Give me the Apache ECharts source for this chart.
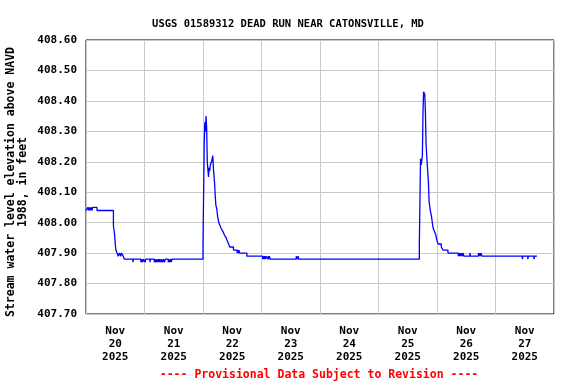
<!DOCTYPE html>
<html>
<head>
<meta charset="utf-8">
<script src="https://cdn.jsdelivr.net/npm/echarts@6/dist/echarts.min.js"></script>
<style>
  html, body { margin: 0; padding: 0; background: #fff; }
  #chart { width: 576px; height: 384px; }
</style>
</head>
<body>
<div id="chart"></div>
<script>
// day labels, centred in each day band
var dayLabels = ['Nov\n20\n2025', 'Nov\n21\n2025', 'Nov\n22\n2025', 'Nov\n23\n2025',
                 'Nov\n24\n2025', 'Nov\n25\n2025', 'Nov\n26\n2025', 'Nov\n27\n2025'];

// change points of the gage reading (value holds until next time)
var times = [
  // Nov 20
  '2025-11-20 00:00', '2025-11-20 00:45', '2025-11-20 01:00', '2025-11-20 01:15', '2025-11-20 01:30',
  '2025-11-20 01:45', '2025-11-20 02:00', '2025-11-20 02:15', '2025-11-20 02:30', '2025-11-20 02:45',
  '2025-11-20 04:30', '2025-11-20 11:15', '2025-11-20 11:45', '2025-11-20 12:00', '2025-11-20 12:15',
  '2025-11-20 12:45', '2025-11-20 13:15', '2025-11-20 13:45', '2025-11-20 14:15', '2025-11-20 14:30',
  '2025-11-20 15:15', '2025-11-20 15:45', '2025-11-20 19:15', '2025-11-20 19:30', '2025-11-20 22:30',
  '2025-11-20 22:45', '2025-11-20 23:15', '2025-11-20 23:30',
  // Nov 21
  '2025-11-21 00:15', '2025-11-21 00:30', '2025-11-21 02:15', '2025-11-21 02:30',
  '2025-11-21 04:00', '2025-11-21 04:15', '2025-11-21 04:30', '2025-11-21 05:00', '2025-11-21 05:15',
  '2025-11-21 05:45', '2025-11-21 06:00', '2025-11-21 06:15', '2025-11-21 06:45', '2025-11-21 07:00',
  '2025-11-21 07:30', '2025-11-21 07:45', '2025-11-21 08:15', '2025-11-21 08:30',
  '2025-11-21 09:45', '2025-11-21 10:00', '2025-11-21 10:15', '2025-11-21 10:45', '2025-11-21 11:00',
  '2025-11-21 11:15', '2025-11-21 11:30',
  // Nov 22 storm
  '2025-11-22 00:00', '2025-11-22 00:30', '2025-11-22 00:45', '2025-11-22 01:00', '2025-11-22 01:15',
  '2025-11-22 01:30', '2025-11-22 01:45', '2025-11-22 02:15', '2025-11-22 02:30', '2025-11-22 02:45',
  '2025-11-22 03:00', '2025-11-22 03:30', '2025-11-22 04:00', '2025-11-22 04:15', '2025-11-22 04:45',
  '2025-11-22 05:00', '2025-11-22 05:15', '2025-11-22 05:45', '2025-11-22 06:00', '2025-11-22 06:30',
  '2025-11-22 07:00', '2025-11-22 07:30', '2025-11-22 08:15', '2025-11-22 08:45', '2025-11-22 09:30',
  '2025-11-22 10:00', '2025-11-22 10:30', '2025-11-22 11:00', '2025-11-22 12:30', '2025-11-22 14:00',
  '2025-11-22 14:15', '2025-11-22 14:30', '2025-11-22 14:45', '2025-11-22 15:00', '2025-11-22 18:00',
  // Nov 23
  '2025-11-23 00:30', '2025-11-23 00:45', '2025-11-23 01:00', '2025-11-23 01:15', '2025-11-23 01:30',
  '2025-11-23 01:45', '2025-11-23 02:30', '2025-11-23 02:45', '2025-11-23 03:00', '2025-11-23 03:15',
  '2025-11-23 03:30', '2025-11-23 14:15', '2025-11-23 14:30', '2025-11-23 15:00', '2025-11-23 15:15',
  // Nov 25 storm
  '2025-11-25 16:45', '2025-11-25 17:15', '2025-11-25 17:30', '2025-11-25 18:00', '2025-11-25 18:15',
  '2025-11-25 18:30', '2025-11-25 19:00', '2025-11-25 19:15', '2025-11-25 19:30', '2025-11-25 20:00',
  '2025-11-25 20:30', '2025-11-25 20:45', '2025-11-25 21:15', '2025-11-25 21:45', '2025-11-25 22:15',
  '2025-11-25 22:30', '2025-11-25 23:00', '2025-11-25 23:30', '2025-11-25 23:45',
  // Nov 26
  '2025-11-26 00:00', '2025-11-26 00:30', '2025-11-26 01:45', '2025-11-26 02:30', '2025-11-26 04:30',
  '2025-11-26 08:45', '2025-11-26 09:00', '2025-11-26 09:15', '2025-11-26 09:30', '2025-11-26 09:45',
  '2025-11-26 10:15', '2025-11-26 10:30', '2025-11-26 10:45', '2025-11-26 11:00', '2025-11-26 13:30',
  '2025-11-26 13:45', '2025-11-26 17:00', '2025-11-26 17:15', '2025-11-26 17:30', '2025-11-26 17:45',
  '2025-11-26 18:00', '2025-11-26 18:30',
  // Nov 27
  '2025-11-27 11:00', '2025-11-27 11:15', '2025-11-27 13:15', '2025-11-27 13:30', '2025-11-27 15:45',
  '2025-11-27 16:00', '2025-11-27 17:00'
];

var levels = [
  // Nov 20
  408.04, 408.05, 408.04, 408.05, 408.04,
  408.05, 408.04, 408.05, 408.04, 408.05,
  408.04, 407.99, 407.96, 407.93, 407.91,
  407.90, 407.89, 407.90, 407.89, 407.90,
  407.89, 407.88, 407.87, 407.88, 407.87,
  407.88, 407.87, 407.88,
  // Nov 21
  407.87, 407.88, 407.87, 407.88,
  407.87, 407.88, 407.87, 407.88, 407.87,
  407.88, 407.87, 407.88, 407.87, 407.88,
  407.87, 407.88, 407.87, 407.88,
  407.87, 407.88, 407.87, 407.88, 407.87,
  407.88, 407.88,
  // Nov 22 storm
  407.93, 408.26, 408.33, 408.30, 408.35,
  408.31, 408.20, 408.15, 408.18, 408.17,
  408.19, 408.20, 408.22, 408.18, 408.13,
  408.09, 408.06, 408.04, 408.02, 408.00,
  407.99, 407.98, 407.97, 407.96, 407.95,
  407.94, 407.93, 407.92, 407.91, 407.90,
  407.91, 407.90, 407.91, 407.90, 407.89,
  // Nov 23
  407.88, 407.89, 407.88, 407.89, 407.88,
  407.89, 407.88, 407.89, 407.88, 407.89,
  407.88, 407.89, 407.88, 407.89, 407.88,
  // Nov 25 storm
  407.93, 408.21, 408.19, 408.22, 408.36,
  408.43, 408.42, 408.36, 408.26, 408.19,
  408.13, 408.07, 408.04, 408.02, 407.99,
  407.98, 407.97, 407.96, 407.95,
  // Nov 26
  407.94, 407.93, 407.92, 407.91, 407.90,
  407.89, 407.90, 407.89, 407.90, 407.89,
  407.90, 407.89, 407.90, 407.89, 407.90,
  407.89, 407.90, 407.89, 407.90, 407.89,
  407.90, 407.89,
  // Nov 27
  407.88, 407.89, 407.88, 407.89, 407.88,
  407.89, 407.89
];

var titleText = 'USGS 01589312 DEAD RUN NEAR CATONSVILLE, MD';
var yName = 'Stream water level elevation above NAVD\n1988, in feet';
var noteText = '---- Provisional Data Subject to Revision ----';

var monoFont = 'DejaVu Sans Mono';

var seriesData = [];
for (var i = 0; i < times.length; i++) {
  seriesData.push([times[i], levels[i]]);
}

var chart = echarts.init(document.getElementById('chart'));
chart.setOption({
  animation: false,
  backgroundColor: '#fff',
  title: {
    text: titleText,
    left: 'center',
    top: 14,
    textStyle: { fontFamily: monoFont, fontWeight: 'bold', fontSize: 10.5, color: '#000' }
  },
  grid: {
    left: 86, right: 22, top: 40, bottom: 70,
    containLabel: false,
    outerBoundsMode: 'none',
    show: true, borderColor: '#000', borderWidth: 1, backgroundColor: '#fff'
  },
  xAxis: [{
    type: 'category',
    data: dayLabels,
    boundaryGap: true,
    axisLine: { show: false },
    axisTick: { show: false },
    splitLine: { show: true, interval: 0, lineStyle: { color: '#c8c8c8', width: 1 } },
    axisLabel: {
      interval: 0, margin: 11, color: '#000',
      fontFamily: monoFont, fontWeight: 'bold', fontSize: 11, lineHeight: 13
    }
  }, {
    type: 'time',
    min: '2025-11-20 00:00',
    max: '2025-11-28 00:00',
    show: false
  }],
  yAxis: {
    type: 'value',
    min: 407.7,
    max: 408.6,
    interval: 0.1,
    axisLine: { show: false },
    axisTick: { show: false },
    splitLine: { show: true, lineStyle: { color: '#c8c8c8', width: 1 } },
    axisLabel: {
      margin: 9, color: '#000',
      fontFamily: monoFont, fontWeight: 'bold', fontSize: 11,
      formatter: function (v) { return v.toFixed(2); }
    }
  },
  graphic: [{
    // y axis title, rotated
    type: 'text',
    x: 17, y: 182,
    rotation: Math.PI / 2,
    style: {
      text: yName,
      fill: '#000',
      font: 'bold 11.5px "DejaVu Sans Mono"',
      lineHeight: 12,
      align: 'center',
      verticalAlign: 'middle'
    }
  }, {
    type: 'text',
    x: 319, y: 375,
    style: {
      text: noteText,
      fill: '#ff0000',
      font: 'bold 11.5px "DejaVu Sans Mono"',
      align: 'center',
      verticalAlign: 'middle'
    }
  }],
  series: [{
    type: 'line',
    xAxisIndex: 1,
    data: seriesData,
    step: 'end',
    showSymbol: false,
    symbol: 'none',
    lineStyle: { color: '#0000ff', width: 1.3 }
  }]
});
</script>
</body>
</html>
